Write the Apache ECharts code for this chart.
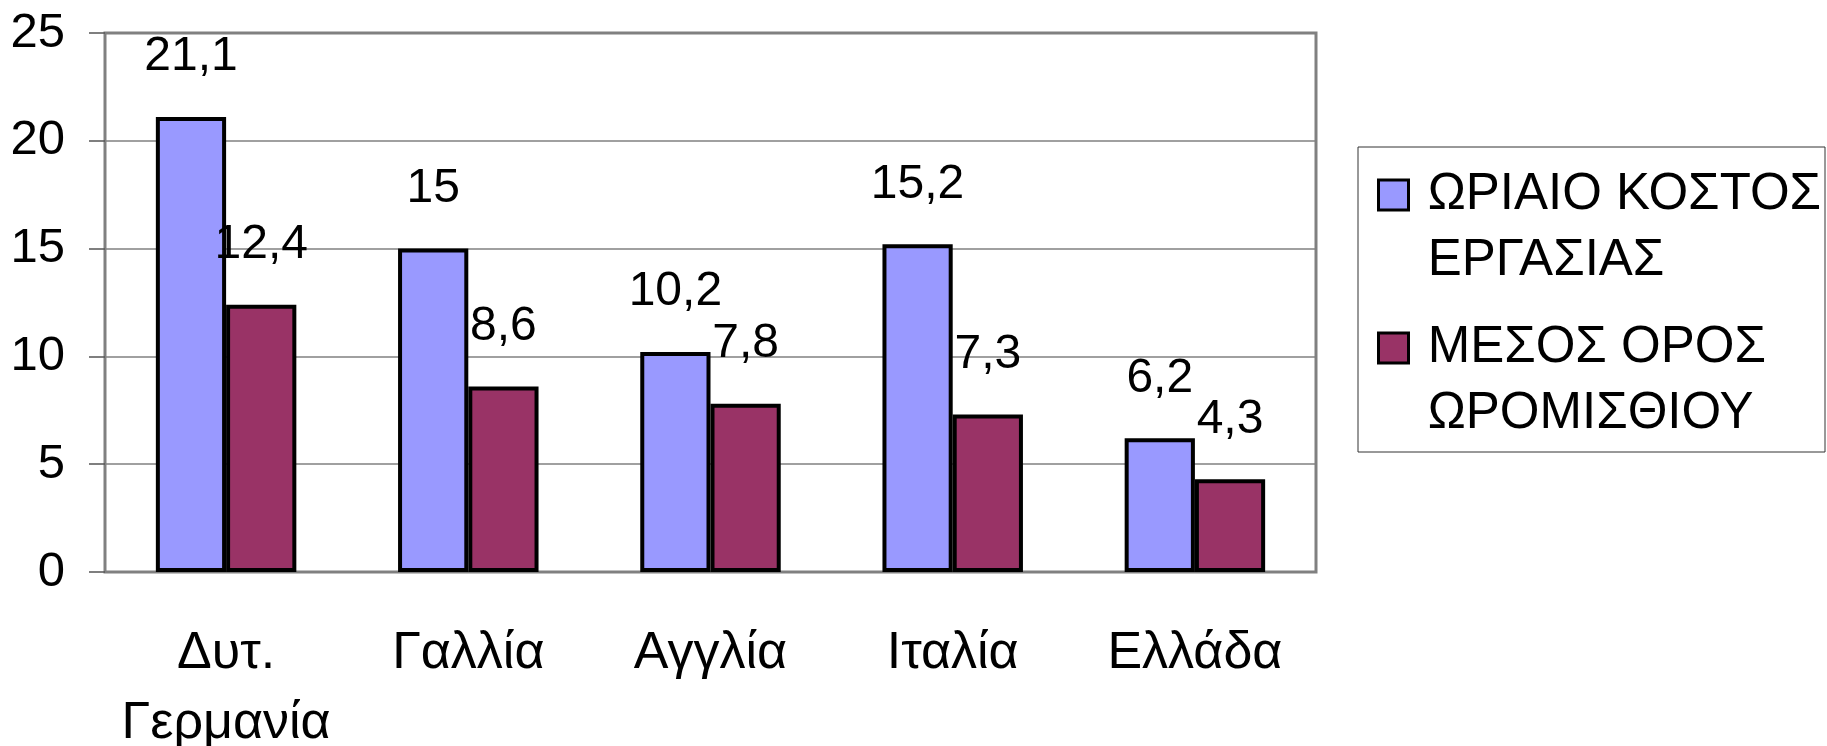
<!doctype html>
<html>
<head>
<meta charset="utf-8">
<script src="https://cdn.jsdelivr.net/npm/echarts@6/dist/echarts.min.js"></script>
<style>
    html, body { margin: 0; padding: 0; background: #fff; }
    #chart { width: 1827px; height: 746px; }
</style>
</head>
<body>
<div id="chart"></div>
<script>
    var categories = ['Δυτ.\nΓερμανία', 'Γαλλία', 'Αγγλία', 'Ιταλία', 'Ελλάδα'];
    var hourlyCost = [21.1, 15, 10.2, 15.2, 6.2];
    var avgWage = [12.4, 8.6, 7.8, 7.3, 4.3];
    var seriesNames = ['ΩΡΙΑΙΟ ΚΟΣΤΟΣ\nΕΡΓΑΣΙΑΣ', 'ΜΕΣΟΣ ΟΡΟΣ\nΩΡΟΜΙΣΘΙΟΥ'];

    var font = "'Liberation Sans', Arial, sans-serif";
    var chart = echarts.init(document.getElementById('chart'));

    function barLabel() {
        return {
            show: true,
            position: 'top',
            distance: 36,
            color: '#000',
            fontFamily: font,
            fontSize: 48,
            lineHeight: 48,
            formatter: function (p) {
                return String(p.value).replace('.', ',');
            }
        };
    }

    // one legend per series, so the icon sits level with the first text line
    function legendAt(top, name) {
        return {
            left: 1377,
            top: top,
            padding: 0,
            orient: 'vertical',
            icon: 'rect',
            itemWidth: 30,
            itemHeight: 30,
            data: [name],
            itemStyle: { borderColor: '#000', borderWidth: 3 },
            formatter: function (n) {
                // blank first line pushes the two real lines down by one
                return ' \n' + n.split('\n').map(function (s) { return ' ' + s; }).join('\n');
            },
            textStyle: {
                fontFamily: font,
                fontSize: 51,
                lineHeight: 66,
                color: '#000'
            }
        };
    }

    chart.setOption({
        animation: false,
        backgroundColor: '#fff',
        grid: {
            left: 105,
            right: 511,
            top: 33,
            bottom: 174,
            outerBoundsMode: 'none',
            containLabel: false,
            show: true,
            borderColor: '#808080',
            borderWidth: 3
        },
        legend: [legendAt(96, seriesNames[0]), legendAt(249, seriesNames[1])],
        graphic: [{
            type: 'rect',
            shape: { x: 1358, y: 147, width: 467, height: 305 },
            style: { fill: 'none', stroke: '#333', lineWidth: 1 },
            z: -1
        }],
        xAxis: {
            type: 'category',
            data: categories,
            axisLine: { lineStyle: { color: '#808080', width: 2 } },
            axisTick: { interval: 0, length: 17, lineStyle: { color: '#555', width: 1.5 } },
            axisLabel: {
                interval: 0,
                margin: 47,
                color: '#000',
                fontFamily: font,
                fontSize: 52,
                lineHeight: 70
            }
        },
        yAxis: {
            type: 'value',
            min: 0,
            max: 25,
            interval: 5,
            axisLine: { show: true, lineStyle: { color: '#808080', width: 2 } },
            axisTick: { show: true, length: 16, lineStyle: { color: '#555', width: 1.5 } },
            splitLine: { lineStyle: { color: '#808080', width: 1.5 } },
            axisLabel: {
                margin: 40,
                color: '#000',
                fontFamily: font,
                fontSize: 49
            }
        },
        series: [{
            name: seriesNames[0],
            type: 'bar',
            data: hourlyCost,
            barGap: '0%',
            barCategoryGap: '42%',
            itemStyle: { color: '#9999FF', borderColor: '#000', borderWidth: 4 },
            label: barLabel()
        }, {
            name: seriesNames[1],
            type: 'bar',
            data: avgWage,
            barGap: '0%',
            barCategoryGap: '42%',
            itemStyle: { color: '#993366', borderColor: '#000', borderWidth: 4 },
            label: barLabel()
        }]
    });
</script>
</body>
</html>
